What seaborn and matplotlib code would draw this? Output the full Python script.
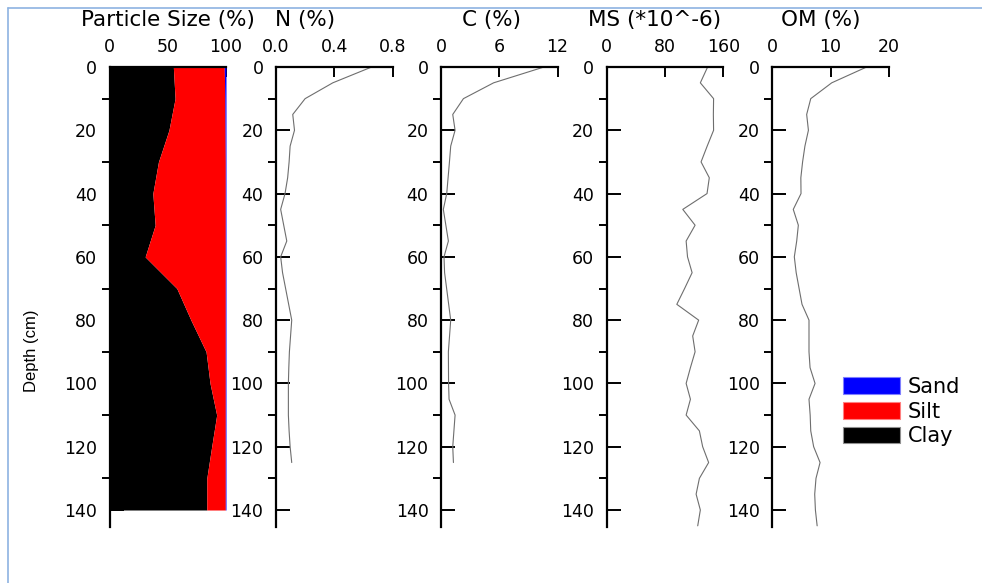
import numpy as np
import pandas as pd
import matplotlib
matplotlib.use("Agg")
import matplotlib.pyplot as plt
from matplotlib.patches import Patch
from matplotlib.lines import Line2D
from matplotlib.ticker import FixedLocator
import seaborn as sns

# ---------------- data ----------------
ps_depth = [0, 10, 20, 30, 40, 50, 60, 70, 80, 90, 100, 110, 120, 130, 140]
clay = [54.8, 56.3, 51.0, 42.0, 37.2, 39.2, 30.6, 57.8, 69.9, 82.9, 86.3, 92.0, 87.7, 83.5, 83.5]
sand = [1.5, 1.0, 0.8, 0.6, 0.6, 0.6, 0.6, 0.6, 0.6, 0.6, 0.6, 0.6, 0.6, 0.6, 0.6]

nc_depth = list(range(0, 130, 5))  # 0..125
n_pct = [0.657, 0.39, 0.20, 0.115, 0.127, 0.097, 0.09, 0.08, 0.062, 0.032, 0.053,
         0.074, 0.032, 0.045, 0.066, 0.087, 0.108, 0.10, 0.092, 0.088, 0.085, 0.085,
         0.085, 0.09, 0.097, 0.108]
c_pct = [10.61, 5.42, 2.31, 1.21, 1.45, 1.0, 0.87, 0.73, 0.59, 0.24, 0.5, 0.76, 0.31,
         0.37, 0.58, 0.79, 1.0, 0.88, 0.76, 0.77, 0.78, 0.83, 1.45, 1.33, 1.21, 1.28]

mo_depth = list(range(0, 150, 5))  # 0..145
ms = [138.6, 128.6, 146.8, 146.5, 146.8, 138.0, 129.6, 140.9, 137.8, 104.5, 121.4,
      109.1, 111.0, 117.3, 107.0, 96.3, 126.3, 118.1, 121.4, 115.0, 109.1, 115.0,
      109.1, 127.3, 131.8, 140.0, 127.3, 122.8, 128.6, 125.0]
om = [16.2, 10.2, 6.6, 5.9, 6.2, 5.6, 5.2, 4.9, 4.93, 3.6, 4.47, 4.19, 3.78, 4.1,
      4.6, 5.1, 6.3, 6.3, 6.3, 6.48, 7.34, 6.3, 6.5, 6.6, 7.1, 8.2, 7.5, 7.28, 7.4, 7.7]

titles = ["Particle Size (%)", "N (%)", "C (%)", "MS (*10^-6)", "OM (%)"]
xlims = [(0, 100), (0, 0.8), (0, 12), (0, 160), (0, 20)]
xticks = [[0, 50, 100], [0.0, 0.4, 0.8], [0, 6, 12], [0, 80, 160], [0, 10, 20]]
xticklabels = [["0", "50", "100"], ["0.0", "0.4", "0.8"], ["0", "6", "12"],
               ["0", "80", "160"], ["0", "10", "20"]]
depth_ticks = [0, 20, 40, 60, 80, 100, 120, 140]
legend_labels = ["Sand", "Silt", "Clay"]

# ---------------- style ----------------
sns.set_style("ticks")
plt.rcParams["font.family"] = ["DejaVu Sans"]
for k in ["text.color", "axes.labelcolor", "xtick.color", "ytick.color",
          "xtick.labelcolor", "ytick.labelcolor"]:
    plt.rcParams[k] = "black"

W, H = 982, 583
fig = plt.figure(figsize=(W / 100, H / 100), dpi=100)

def px(x, y):
    return x / W, 1 - y / H

left_px = [109.5, 276, 441, 606.7, 772.3]
ax_w = 116.5
top_px, bot_px = 67, 527
ymax = (bot_px - top_px) / ((510 - 67) / 140)

line_col = "#6e6e6e"
axes = []
for i, lp in enumerate(left_px):
    ax = fig.add_axes([lp / W, 1 - bot_px / H, ax_w / W, (bot_px - top_px) / H])
    axes.append(ax)
    ax.set_xlim(*xlims[i])
    ax.set_ylim(ymax, 0)
    for s in ["right", "bottom"]:
        ax.spines[s].set_visible(False)
    for s in ["left", "top"]:
        ax.spines[s].set_linewidth(1.6)
        ax.spines[s].set_color("black")
    ax.xaxis.tick_top()
    ax.xaxis.set_label_position("top")
    ax.set_xticks(xticks[i])
    ax.set_xticklabels(xticklabels[i])
    ax.set_yticks(depth_ticks)
    ax.set_yticklabels([str(d) for d in depth_ticks])
    ax.yaxis.set_minor_locator(FixedLocator([10, 30, 50, 70, 90, 110, 130]))
    if i == 0:
        ax.xaxis.set_minor_locator(FixedLocator([25, 75]))
    ax.tick_params(axis="x", which="major", direction="in", length=7, width=1.4,
                   labelsize=12.5, pad=8, top=True, bottom=False)
    ax.tick_params(axis="x", which="minor", direction="in", length=5, width=1.4,
                   top=True, bottom=False)
    ax.tick_params(axis="y", which="major", direction="in", length=10, width=1.4,
                   labelsize=12.5, pad=9)
    ax.tick_params(axis="y", which="minor", direction="out", length=5.5, width=1.4)
    ax.set_xlabel("")
    ax.set_ylabel("")
    ax.patch.set_alpha(0)

# Particle size panel
ax0 = axes[0]
pdepth = np.array(ps_depth, dtype=float)
pclay = np.array(clay)
psilt_top = 100 - np.array(sand)
ax0.fill_betweenx(pdepth, 0, pclay, color="black", lw=0, zorder=1)
ax0.fill_betweenx(pdepth, pclay, psilt_top, color="#ff0000", lw=0, zorder=1)
ax0.fill_betweenx(pdepth, psilt_top, 100, color="#0000ff", lw=0, zorder=1)

profiles = [(n_pct, nc_depth), (c_pct, nc_depth), (ms, mo_depth), (om, mo_depth)]
for ax, (vals, dep) in zip(axes[1:], profiles):
    df = pd.DataFrame({"v": vals, "d": dep})
    sns.lineplot(data=df, x="v", y="d", orient="y", sort=False, ax=ax,
                 color=line_col, lw=0.8)
    ax.set_xlabel("")
    ax.set_ylabel("")

# titles
title_x = [168, 305, 491, 655, 821]
for t, tx in zip(titles, title_x):
    fx, fy = px(tx, 20)
    fig.text(fx, fy, t, ha="center", va="center", fontsize=15.5)

# depth label
fx, fy = px(32, 351)
fig.text(fx, fy, "Depth (cm)", rotation=90, ha="center", va="center", fontsize=12,
         family=["Liberation Sans Narrow", "Liberation Sans", "DejaVu Sans"])

# legend
handles = [Patch(facecolor="#0000ff", edgecolor="#8080ff", lw=0.8),
           Patch(facecolor="#ff0000", edgecolor="#ff8080", lw=0.8),
           Patch(facecolor="black", edgecolor="#909090", lw=0.8)]
lx, ly = px(843, 377)
fig.legend(handles, legend_labels, loc="upper left", bbox_to_anchor=(lx, ly),
           frameon=False, borderpad=0, borderaxespad=0, fontsize=15,
           handlelength=2.75, handleheight=0.85, handletextpad=0.35, labelspacing=0.22)

# frame lines
fc = "#8db3e2"
fig.add_artist(Line2D([8 / W, 1], [1 - 8 / H, 1 - 8 / H], color=fc, lw=1.2,
                      transform=fig.transFigure))
fig.add_artist(Line2D([8 / W, 8 / W], [0, 1 - 8 / H], color=fc, lw=1.2,
                      transform=fig.transFigure))

fig.savefig("out.png", dpi=100)
